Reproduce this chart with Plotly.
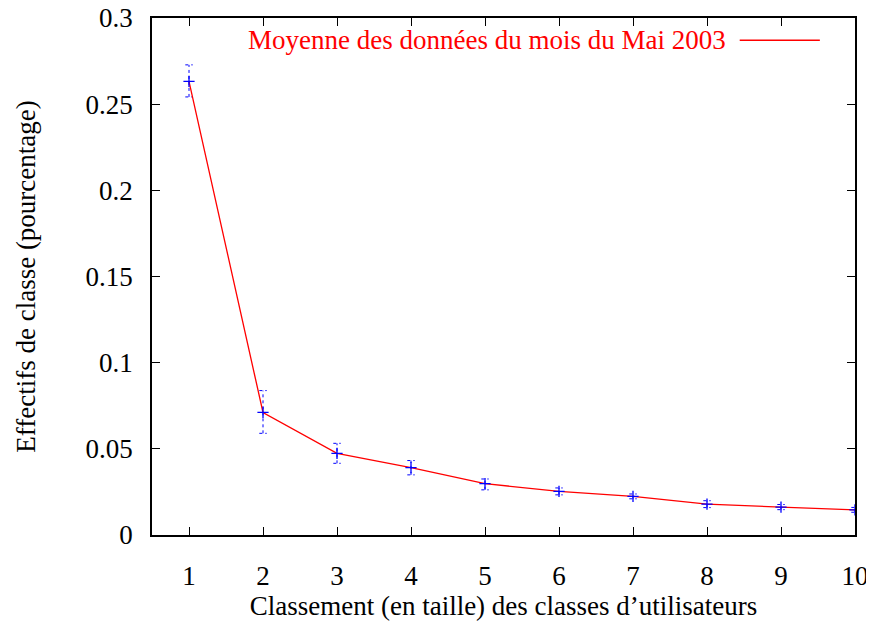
"""Effectifs de classe - moyenne de mai 2003."""

import plotly.graph_objects as go

# data
rang = [1, 2, 3, 4, 5, 6, 7, 8, 9, 10]
effectif = [0.2632, 0.0711, 0.0474, 0.0391, 0.0298, 0.0253, 0.0224, 0.0179, 0.0162, 0.0146]
err_haut = [0.2728, 0.0838, 0.0532, 0.0432, 0.0325, 0.0273, 0.0238, 0.0199, 0.0177, 0.0160]
err_bas = [0.2542, 0.0590, 0.0416, 0.0349, 0.0262, 0.0233, 0.0210, 0.0159, 0.0147, 0.0132]
yticks = [0, 0.05, 0.1, 0.15, 0.2, 0.25, 0.3]
ytick_text = ["0", "0.05", "0.1", "0.15", "0.2", "0.25", "0.3"]
legende = "Moyenne des données du mois du Mai 2003"

FONT = "Liberation Serif, Times New Roman, serif"
FSIZE = 27
CAP = 0.05  # half width of error bar caps, in x units

# build dotted error bars (plotly error_y can't be dashed)
ex, ey = [], []
for x, lo, hi in zip(rang, err_bas, err_haut):
    ex += [x, x, None, x - CAP, x + CAP, None, x - CAP, x + CAP, None]
    ey += [lo, hi, None, lo, lo, None, hi, hi, None]

fig = go.Figure()
fig.add_trace(go.Scatter(
    x=ex, y=ey, mode="lines",
    line=dict(color="blue", width=1, dash="dot"),
    showlegend=False, hoverinfo="skip",
))
fig.add_trace(go.Scatter(
    x=rang, y=effectif, mode="lines",
    line=dict(color="red", width=1.3),
    showlegend=False,
))
fig.add_trace(go.Scatter(
    x=rang, y=effectif, mode="markers",
    marker=dict(symbol="cross-thin", size=8, line=dict(color="blue", width=1.3)),
    showlegend=False,
))

# gnuplot-style key: text then line sample
fig.add_annotation(
    x=0.819, y=0.957, xref="paper", yref="paper",
    xanchor="right", yanchor="middle", showarrow=False,
    text=legende, font=dict(family=FONT, size=FSIZE, color="red"),
)
fig.add_shape(
    type="line", xref="paper", yref="paper",
    x0=0.836, x1=0.950, y0=0.957, y1=0.957,
    line=dict(color="red", width=1.3),
)

axis_common = dict(
    showline=True, linecolor="black", linewidth=1.5, mirror="allticks",
    ticks="inside", ticklen=8, tickcolor="black", tickwidth=1.3,
    showgrid=False, zeroline=False, automargin=False,
    ticklabeloverflow="allow",
    tickfont=dict(family=FONT, size=FSIZE, color="black"),
)

# page body has an 8px margin, so the figure is a bit smaller than the window
fig.update_layout(
    width=866, height=614,
    margin=dict(l=144, r=19, t=10, b=87),
    plot_bgcolor="white", paper_bgcolor="white",
    font=dict(family=FONT, size=FSIZE, color="black"),
    xaxis=dict(
        range=[0.5, 10], tickvals=rang, ticklabelstandoff=16,
        title=dict(text="Classement (en taille) des classes d’utilisateurs",
                   font=dict(family=FONT, size=FSIZE), standoff=6),
        **axis_common,
    ),
    yaxis=dict(
        range=[0, 0.3], tickvals=yticks, ticktext=ytick_text, ticklabelstandoff=12,
        title=dict(text="Effectifs de classe (pourcentage)",
                   font=dict(family=FONT, size=FSIZE), standoff=42),
        **axis_common,
    ),
)

fig.write_html("out.html")
